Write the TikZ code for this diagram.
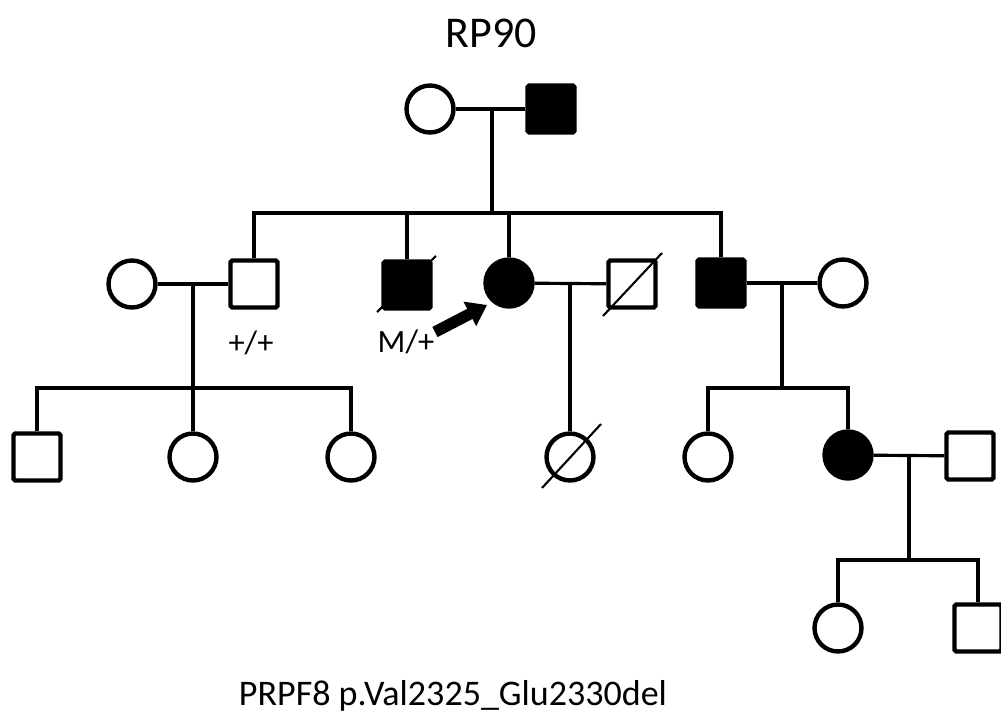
\documentclass[tikz,border=0pt]{standalone}
\usepackage{fontspec}
\setmainfont{Carlito}
\usetikzlibrary{arrows.meta, calc}
\begin{document}
\begin{tikzpicture}[x=0.02cm, y=-0.02cm, >=latex]
    % Pedigree of family RP90 (PRPF8 in-frame deletion)
    \tikzset{male/.style={draw, line width=2.5pt, rounded corners=1pt, minimum size=0.94cm, inner sep=0pt}, female/.style={draw, circle, line width=2.5pt, minimum size=0.94cm, inner sep=0pt}, affected/.style={fill=black}, famline/.style={line width=1.8pt}, deadline/.style={line width=1.2pt}, probarrow/.style={-{Triangle[length=11pt, width=15pt]}, line width=6.5pt}}
    \useasboundingbox (0,0) rectangle (1001,720);
    \node (title) at (491,33) {\fontsize{25}{28}\selectfont RP90};
    % generation I
    \node[female] (I1) at (430,109) {}; \node[male, affected] (I2) at (551,109) {};
    \coordinate (m1) at (492,109); \coordinate (s1) at (492,213);
    \draw[famline] (I1) -- (I2); \draw[famline] (m1) -- (s1);
    % generation II
    \node[female] (II1) at (132,284) {}; \node[male] (II2) at (254,284) {};
    \node[male, affected] (II3) at (407,285) {}; \node[female, affected] (II4) at (509,283) {};
    \node[male] (II5) at (632,284) {}; \node[male, affected] (II6) at (721,283) {};
    \node[female] (II7) at (843,283) {};
    \draw[famline] (II2.north) |- (s1) -| (II6.north); \draw[famline] (II3.north) -- (II3.north |- s1); \draw[famline] (II4.north) -- (II4.north |- s1);
    \draw[deadline] ($(II3)+(-30,27)$) -- ($(II3)+(29,-29)$); \draw[deadline] ($(II5)+(-29,32)$) -- ($(II5)+(30,-31)$);
    \node (g1) at (251,343) {\fontsize{18.5}{21}\selectfont +/+}; \node (g2) at (406,342) {\fontsize{18.5}{21}\selectfont M/+};
    \coordinate (arrS) at (435,332); \coordinate (arrE) at (487,305);
    \draw[probarrow] (arrS) -- (arrE);
    \coordinate (m2) at (193,284); \coordinate (s2) at (193,388);
    \coordinate (m3) at (570,283); \coordinate (m4) at (782,283); \coordinate (s4) at (782,388);
    \draw[famline] (II1) -- (II2); \draw[famline] (II4) -- (II5); \draw[famline] (II6) -- (II7);
    \draw[famline] (m2) -- (s2); \draw[famline] (m4) -- (s4);
    % generation III
    \node[male] (III1) at (37,457) {}; \node[female] (III2) at (193,457) {}; \node[female] (III3) at (351,457) {};
    \node[female] (III4) at (570,457) {};
    \node[female] (III5) at (708,457) {}; \node[female, affected] (III6) at (848,455) {}; \node[male] (III7) at (970,456) {};
    \draw[famline] (III1.north) |- (s2) -| (III3.north); \draw[famline] (III2.north) -- (s2);
    \draw[famline] (m3) -- (III4.north);
    \draw[deadline] ($(III4)+(-28,31)$) -- ($(III4)+(31,-33)$);
    \draw[famline] (III5.north) |- (s4) -| (III6.north);
    \coordinate (m5) at (909,456); \coordinate (s5) at (909,560);
    \draw[famline] (III6) -- (III7); \draw[famline] (m5) -- (s5);
    % generation IV
    \node[female] (IV1) at (838,628) {}; \node[male] (IV2) at (978,628) {};
    \draw[famline] (IV1.north) |- (s5) -| (IV2.north);
    \node (gene) at (453,696) {\fontsize{20.5}{24}\selectfont PRPF8 p.Val2325\_Glu2330del};
\end{tikzpicture}
\end{document}
